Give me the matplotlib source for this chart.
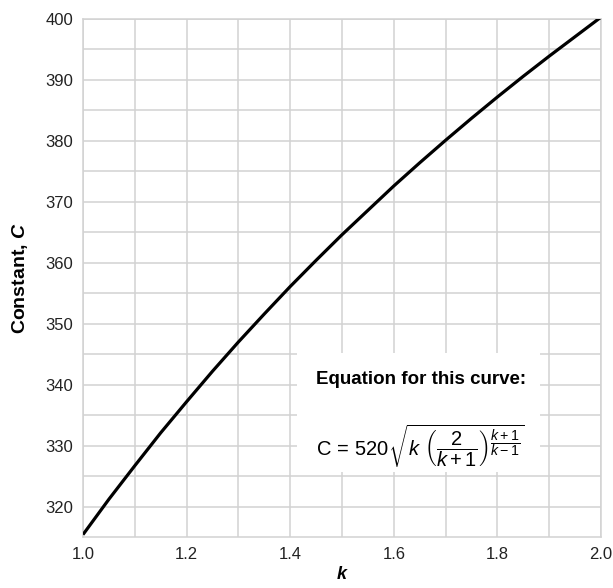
import matplotlib.pyplot as plt
import matplotlib.patches as patches

# k values and the constant C
k_vals = [1.00, 1.05, 1.10, 1.15, 1.20, 1.25, 1.30, 1.35, 1.40, 1.45, 1.50,
          1.55, 1.60, 1.65, 1.70, 1.75, 1.80, 1.85, 1.90, 1.95, 2.00]
c_vals = [315.4, 321.2, 326.7, 332.1, 337.2, 342.2, 347.0, 351.6, 356.1, 360.4, 364.6,
          368.6, 372.6, 376.4, 380.1, 383.7, 387.2, 390.6, 393.9, 397.1, 400.3]

x_ticks = [1.0, 1.2, 1.4, 1.6, 1.8, 2.0]
x_labels = ['1.0', '1.2', '1.4', '1.6', '1.8', '2.0']
y_ticks = [320, 330, 340, 350, 360, 370, 380, 390, 400]

fnt = 'Liberation Sans'
plt.rcParams['font.family'] = [fnt, 'DejaVu Sans']
plt.rcParams['mathtext.fontset'] = 'custom'
plt.rcParams['mathtext.rm'] = fnt
plt.rcParams['mathtext.it'] = fnt + ':italic'
plt.rcParams['mathtext.bf'] = fnt + ':bold'
plt.rcParams['mathtext.bfit'] = fnt + ':italic:bold'

grid_col = '#d2d2d2'

fig = plt.figure(figsize=(6.13, 5.88), dpi=100)
ax = fig.add_axes([0.1354, 0.0867, 0.845, 0.881])

ax.plot(k_vals, c_vals, color='black', lw=2.3, zorder=5, solid_capstyle='butt')

ax.set_xlim(1.0, 2.0)
ax.set_ylim(315, 400)
ax.set_xticks(x_ticks)
ax.set_xticklabels(x_labels)
ax.set_yticks(y_ticks)
ax.set_xticks([1.1, 1.3, 1.5, 1.7, 1.9], minor=True)
ax.set_yticks([325, 335, 345, 355, 365, 375, 385, 395], minor=True)
ax.grid(True, which='both', color=grid_col, lw=1.1)
ax.set_axisbelow(True)
ax.tick_params(which='both', length=0, labelsize=12, pad=7, colors='#222222')

for s in ax.spines.values():
    s.set_color(grid_col)
    s.set_linewidth(1.1)

ax.set_xlabel('k', fontsize=13, fontweight='bold', style='italic', labelpad=3)
ax.set_ylabel('Constant, $\\mathbfit{C}$', fontsize=14, fontweight='bold', labelpad=11)

# white panel holding the equation
box = patches.Rectangle((0.413, 0.126), 0.469, 0.229, transform=ax.transAxes,
                        facecolor='white', edgecolor='none', zorder=3)
ax.add_patch(box)
ax.text(0.45, 0.305, 'Equation for this curve:', transform=ax.transAxes,
        fontsize=13.5, fontweight='bold', va='center', ha='left', zorder=6)
ax.text(0.45, 0.175,
        r'$\mathrm{C}\,=\,520\sqrt{k\ \left(\dfrac{2}{k+1}\right)^{\dfrac{k+1}{k-1}}}$',
        transform=ax.transAxes, fontsize=14.5, va='center', ha='left', zorder=6)

plt.savefig('out.png', dpi=100)
